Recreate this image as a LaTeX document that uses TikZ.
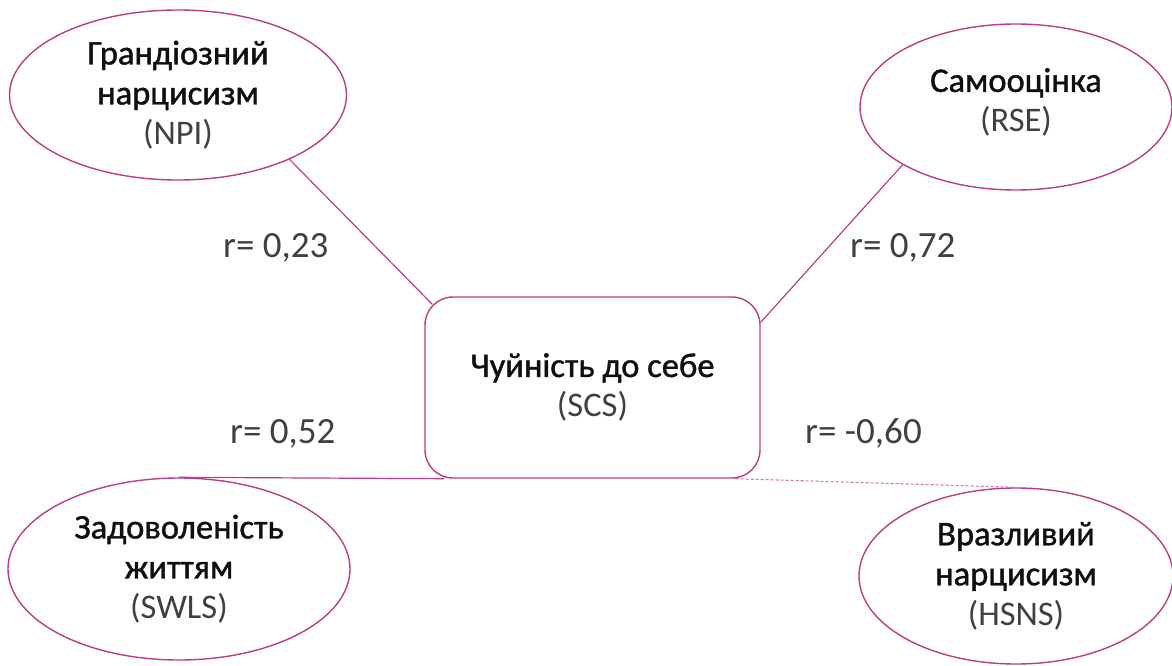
\documentclass[tikz,border=0pt]{standalone}
\usepackage{fontspec}
\setmainfont{Carlito}
\newfontfamily\namefont[FakeBold=1.2]{Carlito}
\usetikzlibrary{shapes.geometric,calc}
\definecolor{plum}{RGB}{187,62,132}
\definecolor{plumlight}{RGB}{214,120,168}
\definecolor{inkdark}{RGB}{15,15,15}
\definecolor{inklight}{RGB}{64,64,64}
\newcommand{\abbr}[1]{{\normalfont\fontsize{34.5}{40}\selectfont\textcolor{inklight}{#1}}}
\tikzset{
  oval/.style={ellipse, draw=plum, line width=1.4pt, inner sep=0pt,
    align=center, text=inkdark, font=\namefont\fontsize{34.5}{40}\selectfont},
  centrebox/.style={rectangle, rounded corners=28pt, draw=plum, line width=1.4pt,
    inner sep=0pt, minimum width=335pt, minimum height=181pt,
    align=center, text=inkdark, font=\namefont\fontsize{34.5}{40}\selectfont},
  link/.style={draw=plum, line width=1.2pt},
  weaklink/.style={draw=plumlight, line width=1.1pt, dash pattern=on 3pt off 2pt},
  coef/.style={anchor=base west, inner sep=0pt, text=inklight,
    font=\fontsize{37}{40}\selectfont}
}
\begin{document}
\begin{tikzpicture}[x=1pt,y=1pt]
  \useasboundingbox (0,0) rectangle (1172,-666);

  % central construct
  \node[centrebox] (scs) at (592.5,-387.5) {Чуйність до себе\\\abbr{(SCS)}};

  % correlated constructs
  \node[oval, minimum width=337pt, minimum height=170pt] (npi) at (178,-95)
    {Грандіозний\\нарцисизм\\\abbr{(NPI)}};
  \node[oval, minimum width=312pt, minimum height=166pt] (rse) at (1016,-107)
    {Самооцінка\\\abbr{(RSE)}\\[-26pt]};
  \node[oval, minimum width=342pt, minimum height=182pt] (swls) at (179,-569)
    {Задоволеність\\життям\\\abbr{(SWLS)}};
  \node[oval, minimum width=314pt, minimum height=176pt] (hsns) at (1016,-576)
    {Вразливий\\нарцисизм\\\abbr{(HSNS)}};

  % connectors
  \draw[link] (npi.-30) -- ([shift={(8,-8)}]scs.north west);
  \draw[link] (rse.207) -- ([shift={(0,-26)}]scs.north east);
  \draw[link] (swls.north) -- ([shift={(20,0)}]scs.south west);
  \draw[weaklink] ([shift={(-25,0)}]scs.south east) -- (hsns.north);

  % correlation coefficients
  \node[coef] (c1) at (223,-257) {r= 0,23};
  \node[coef] (c2) at (850,-257) {r= 0,72};
  \node[coef] (c3) at (230,-443) {r= 0,52};
  \node[coef] (c4) at (805,-443) {r= -0,60};
\end{tikzpicture}
\end{document}
